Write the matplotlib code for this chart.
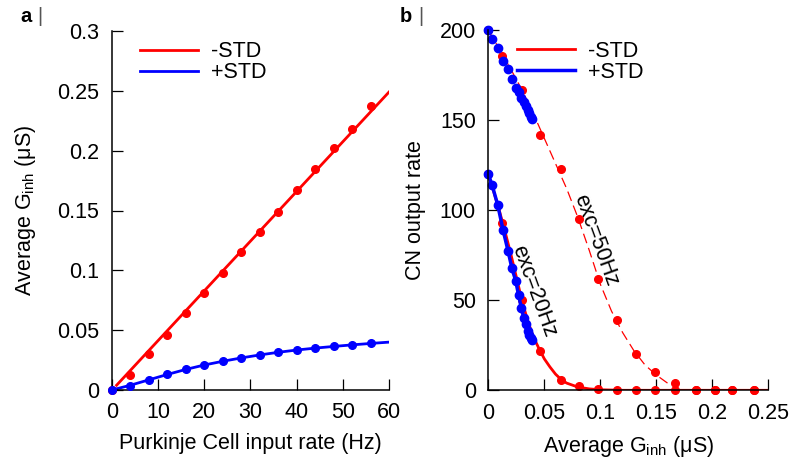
import matplotlib
matplotlib.use('Agg')
import matplotlib.pyplot as plt

plt.rcParams['font.family'] = ['Liberation Sans', 'DejaVu Sans']

# panel a: Purkinje input rate -> average inhibitory conductance
rates = [0, 4, 8, 12, 16, 20, 24, 28, 32, 36, 40, 44, 48, 52, 56]
g_minus = [0, 0.0126, 0.030, 0.046, 0.0647, 0.081, 0.098, 0.115, 0.132,
           0.149, 0.167, 0.185, 0.2025, 0.218, 0.237]
g_plus = [0, 0.0034, 0.0084, 0.0132, 0.0176, 0.021, 0.0244, 0.027, 0.0294,
          0.0317, 0.0333, 0.035, 0.0364, 0.0378, 0.0389]

# fitted lines, panel a
fit_rate_minus = [1, 60]
fit_g_minus = [0.004, 0.249]
fit_rate_plus = [0, 4, 8, 12, 16, 20, 24, 28, 32, 36, 40, 44, 48, 52, 56, 60]
fit_g_plus = [0, 0.0040, 0.0085, 0.0130, 0.0172, 0.0209, 0.0240, 0.0268,
              0.0293, 0.0315, 0.0334, 0.0350, 0.0364, 0.0377, 0.0389, 0.0400]

# panel b: CN output rate vs G_inh (x values are g_minus / g_plus)
out20_minus = [120, 92.8, 50, 22, 6, 2.4, 0.7, 0.2, 0, 0, 0, 0, 0, 0, 0]
out50_minus = [200, 186, 167, 142, 123, 95, 62, 39, 20, 10, 4, 0.3, 0, 0, 0]
out20_plus = [120, 114, 103, 89, 77.5, 68, 61, 53, 46, 40, 37, 33, 31, 29, 28]
out50_plus = [200, 195, 190, 183, 178.5, 173, 168, 165.5, 162.5, 160, 158,
              155.5, 154, 152, 151]

fit20_g = [0, 0.005, 0.01, 0.015, 0.02, 0.025, 0.03, 0.035, 0.04, 0.045,
           0.05, 0.055, 0.06, 0.065, 0.07, 0.08, 0.09, 0.1, 0.12, 0.25]
fit20_rate = [120, 110, 99.5, 88, 76, 63, 50, 39, 30, 23.5, 17.5, 13, 9, 6,
              4, 1.8, 0.8, 0.3, 0, 0]
fit50_g = [0, 0.01, 0.02, 0.03, 0.04, 0.05, 0.06, 0.07, 0.08, 0.09, 0.10,
           0.11, 0.12, 0.13, 0.14, 0.15, 0.16]
fit50_rate = [200, 189.5, 178.5, 167, 154, 140, 126, 112, 96, 78, 59, 44,
              32, 22, 14, 8.5, 4]

RED = '#ff0000'
BLUE = '#0000ff'
FS = 15.5

fig = plt.figure(figsize=(7.9, 4.63), dpi=100)
ax1 = fig.add_axes([112 / 790, 73 / 463, 277 / 790, 359 / 463])
ax2 = fig.add_axes([488.3 / 790, 72.7 / 463, 280 / 790, 360 / 463])

for ax in (ax1, ax2):
    ax.spines['top'].set_visible(False)
    ax.spines['right'].set_visible(False)
    ax.spines['left'].set_linewidth(1.1)
    ax.spines['bottom'].set_linewidth(1.1)
    ax.tick_params(direction='in', length=8, width=0.9, labelsize=FS, pad=9)
    for s in ('left', 'bottom'):
        ax.spines[s].set_clip_on(False)

# ---- panel a
l1, = ax1.plot(fit_rate_minus, fit_g_minus, color=RED, lw=2, label='-STD')
ax1.plot(rates, g_minus, 'o', color=RED, ms=5.5, clip_on=False)
l2, = ax1.plot(fit_rate_plus, fit_g_plus, color=BLUE, lw=2, label='+STD')
ax1.plot(rates, g_plus, 'o', color=BLUE, ms=5.5, clip_on=False, zorder=3)
ax1.set_xlim(0, 60)
ax1.set_ylim(0, 0.3)
ax1.set_xticks([0, 10, 20, 30, 40, 50, 60])
ax1.set_yticks([0, 0.05, 0.1, 0.15, 0.2, 0.25, 0.3])
ax1.set_yticklabels(['0', '0.05', '0.1', '0.15', '0.2', '0.25', '0.3'])
ax1.set_xlabel('Purkinje Cell input rate (Hz)', fontsize=FS, labelpad=7)
ax1.set_ylabel(r'Average G$_\mathregular{inh}$ ($\mathregular{\mu}$S)',
               fontsize=FS, labelpad=14)
ax1.legend(handles=[l1, l2], loc='upper left', bbox_to_anchor=(0.07, 0.995),
           frameon=False, fontsize=FS, handlelength=2.7,
           handletextpad=0.6, labelspacing=0.0, borderaxespad=0)

# ---- panel b
ax2.plot(fit50_g, fit50_rate, color=RED, lw=0.9, ls=(0, (8, 4)))
ax2.plot(g_minus, out50_minus, 'o', color=RED, ms=5.5, clip_on=False)
m1, = ax2.plot(fit20_g, fit20_rate, color=RED, lw=2, label='-STD')
ax2.plot(g_minus, out20_minus, 'o', color=RED, ms=5.5, clip_on=False)
m2, = ax2.plot(g_plus, out20_plus, color=BLUE, lw=2.5, label='+STD')
ax2.plot(g_plus, out20_plus, 'o', color=BLUE, ms=6, clip_on=False)
ax2.plot(g_plus, out50_plus, 'o', color=BLUE, ms=6, clip_on=False)
ax2.set_xlim(0, 0.25)
ax2.set_ylim(0, 200)
ax2.set_xticks([0, 0.05, 0.1, 0.15, 0.2, 0.25])
ax2.set_xticklabels(['0', '0.05', '0.1', '0.15', '0.2', '0.25'])
ax2.set_yticks([0, 50, 100, 150, 200])
ax2.set_xlabel(r'Average G$_\mathregular{inh}$ ($\mathregular{\mu}$S)',
               fontsize=FS, labelpad=7)
ax2.set_ylabel('CN output rate', fontsize=FS, labelpad=10)
ax2.legend(handles=[m1, m2], loc='upper left', bbox_to_anchor=(0.07, 0.995),
           frameon=False, fontsize=FS, handlelength=2.7,
           handletextpad=0.6, labelspacing=0.0, borderaxespad=0)

ax2.text(0.0405, 55, 'exc=20Hz', rotation=-70, ha='center', va='center',
         fontsize=FS, rotation_mode='anchor')
ax2.text(0.0955, 83.5, 'exc=50Hz', rotation=-70, ha='center', va='center',
         fontsize=FS, rotation_mode='anchor')

# panel letters
fig.text(20 / 790, 1 - 16 / 463, 'a', fontsize=FS - 1, fontweight='bold',
         va='center')
fig.text(37 / 790, 1 - 16 / 463, '|', fontsize=FS - 1, color='#555555',
         va='center')
fig.text(400 / 790, 1 - 16 / 463, 'b', fontsize=FS - 1, fontweight='bold',
         va='center')
fig.text(418 / 790, 1 - 16 / 463, '|', fontsize=FS - 1, color='#555555',
         va='center')

fig.savefig('out.png', dpi=100)
